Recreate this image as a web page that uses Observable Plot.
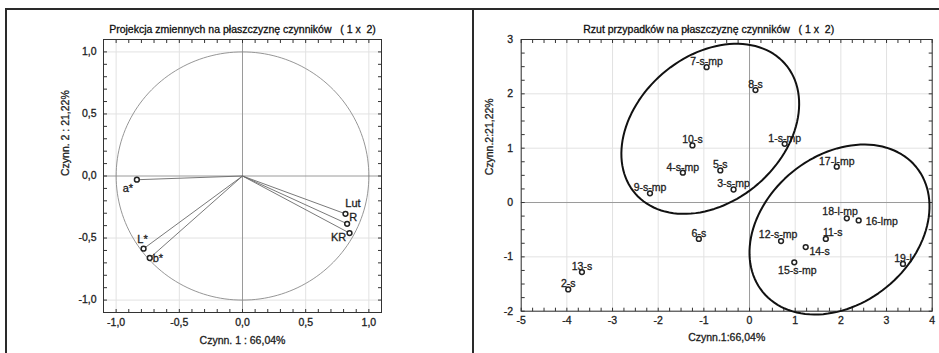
<!DOCTYPE html>
<html><head><meta charset="utf-8">
<script src="https://cdn.jsdelivr.net/npm/d3@7"></script>
<script src="https://cdn.jsdelivr.net/npm/@observablehq/plot@0.6"></script>
<style>
body{margin:0;background:#fff;}
#wrap{position:relative;width:939px;height:353px;overflow:hidden;background:#fff;font-family:"Liberation Sans",Arial,sans-serif;}
#left{position:absolute;left:0;top:0;}
#right{position:absolute;left:473px;top:0;}
.line{position:absolute;background:#2a2a2a;}
#wrap svg text{stroke:#222;stroke-width:0.3px;}
</style></head>
<body>
<div id="wrap">
  <div id="left"></div>
  <div id="right"></div>
  <div class="line" style="left:5px;top:8px;width:934px;height:1.5px"></div>
  <div class="line" style="left:5px;top:8px;width:2px;height:345px"></div>
  <div class="line" style="left:472px;top:8px;width:2px;height:345px"></div>
</div>
<script>
// ---- Left panel: variables ----
const leftTitle = "Projekcja zmiennych na płaszczyznę czynników   ( 1 x  2)";
const leftXLabel = "Czynn. 1 : 66,04%";
const leftYLabel = "Czynn. 2 : 21,22%";
const leftTicks = [-1.0, -0.5, 0.0, 0.5, 1.0];
const varNames = ["a*", "L*", "b*", "Lut", "R", "KR"];
const varF1 = [-0.836, -0.783, -0.734, 0.815, 0.828, 0.847];
const varF2 = [-0.030, -0.586, -0.661, -0.305, -0.385, -0.460];
const varLabelPos = ["belowLeft", "above", "right", "aboveRight", "upRight", "left"];

// ---- Right panel: cases ----
const rightTitle = "Rzut przypadków na płaszczyznę czynników   ( 1 x  2)";
const rightXLabel = "Czynn.1:66,04%";
const rightYLabel = "Czynn.2:21,22%";
const rightXTicks = [-5, -4, -3, -2, -1, 0, 1, 2, 3, 4];
const rightYTicks = [-2, -1, 0, 1, 2, 3];
const caseNames = ["1-s-mp","2-s","3-s-mp","4-s-mp","5-s","6-s","7-s-mp","8-s","9-s-mp","10-s","11-s","12-s-mp","13-s","14-s","15-s-mp","16-lmp","17-l-mp","18-l-mp","19-l"];
const caseF1 = [0.77,-3.97,-0.35,-1.46,-0.64,-1.11,-0.94,0.13,-2.18,-1.25,1.67,0.69,-3.67,1.23,0.98,2.39,1.91,2.13,3.36];
const caseF2 = [1.08,-1.60,0.24,0.55,0.59,-0.67,2.49,2.07,0.17,1.05,-0.67,-0.71,-1.28,-0.82,-1.10,-0.33,0.66,-0.29,-1.13];
const caseLabelPos = ["top","top","top","top","top","top","top","top","top","top","topRight","topLeftNear","top","belowRight","below","right","top","topLeft","top"];

// Group ellipses: centre and conjugate semi-axis vectors (data units)
const ellipseCX = [-0.86, 1.97];
const ellipseCY = [1.356, -0.497];
const ellipseUX = [1.641, 1.679];
const ellipseUY = [1.193, 1.151];
const ellipseVX = [-1.047, -1.032];
const ellipseVY = [1.013, 1.059];

// ---- build tables ----
const vars = varNames.map((n, i) => ({name: n, x: varF1[i], y: varF2[i], pos: varLabelPos[i]}));
const cases = caseNames.map((n, i) => ({name: n, x: caseF1[i], y: caseF2[i], pos: caseLabelPos[i]}));
const circle = d3.range(0, 361, 2).map(a => ({x: Math.cos(a * Math.PI / 180), y: Math.sin(a * Math.PI / 180)}));
const ellipses = [];
ellipseCX.forEach((cx, k) => {
  d3.range(0, 361, 3).forEach(a => {
    const t = a * Math.PI / 180;
    ellipses.push({g: k,
      x: cx + ellipseUX[k] * Math.cos(t) + ellipseVX[k] * Math.sin(t),
      y: ellipseCY[k] + ellipseUY[k] * Math.cos(t) + ellipseVY[k] * Math.sin(t)});
  });
});

const leftOff = {belowLeft: [-9, 9, "middle"], above: [-1, -9, "middle"], right: [3, 0, "start"],
  aboveRight: [7.5, -10, "middle"], upRight: [2, -6, "start"], left: [-11, 4, "middle"]};
const rightOff = {top: [0, -5.5, "middle"], right: [7, 1, "start"], belowRight: [3.7, 5, "start"],
  below: [3, 8.3, "middle"], topLeft: [-6.7, -6.3, "middle"], topRight: [7, -6.7, "middle"], topLeftNear: [-3, -6.3, "middle"]};

const textColor = "#1a1a1a";
function labelMarks(data, off, size) {
  return Object.keys(off).map(p => Plot.text(data.filter(d => d.pos === p), {
    x: "x", y: "y", text: "name", dx: off[p][0], dy: off[p][1], textAnchor: off[p][2],
    fontSize: size, fill: textColor
  }));
}

// inward minor ticks on all four sides of the frame (length L pixels, converted to data units)
function frameTicks(xs, ys, xd, yd, innerW, innerH) {
  const L = 3.5, s = {stroke: "#333", strokeWidth: 1};
  const lx = L * (xd[1] - xd[0]) / innerW, ly = L * (yd[1] - yd[0]) / innerH;
  const bx = xs.map(v => ({v, a: yd[0], b: yd[0] + ly})).concat(xs.map(v => ({v, a: yd[1] - ly, b: yd[1]})));
  const by = ys.map(v => ({v, a: xd[0], b: xd[0] + lx})).concat(ys.map(v => ({v, a: xd[1] - lx, b: xd[1]})));
  return [
    Plot.link(bx, {x1: "v", x2: "v", y1: "a", y2: "b", ...s}),
    Plot.link(by, {y1: "v", y2: "v", x1: "a", x2: "b", ...s})
  ];
}

const comma1 = d => d.toFixed(1).replace(".", ",");
const frameColor = "#333";

const LW = 470, LH = 353, LML = 103, LMR = 89, LMT = 39, LMB = 41;
const LXD = [-1.1, 1.1], LYD = [-1.1, 1.1];
const leftMinor = d3.range(-11, 12).map(d => d / 10);
const left = Plot.plot({
  width: LW, height: LH,
  marginLeft: LML, marginRight: LMR, marginTop: LMT, marginBottom: LMB,
  x: {domain: LXD},
  y: {domain: LYD},
  style: {fontFamily: "Liberation Sans, Arial, sans-serif", fontSize: "10px", color: textColor, background: "#fff"},
  marks: [
    Plot.ruleX(leftTicks.filter(d => d !== 0), {stroke: "#e2e2e2"}),
    Plot.ruleY(leftTicks.filter(d => d !== 0), {stroke: "#e2e2e2"}),
    Plot.ruleX([0], {stroke: "#9a9a9a"}),
    Plot.ruleY([0], {stroke: "#9a9a9a"}),
    Plot.line(circle, {x: "x", y: "y", stroke: "#8a8a8a", strokeWidth: 0.9}),
    Plot.link(vars, {x1: () => 0, y1: () => 0, x2: "x", y2: "y", stroke: "#6a6a6a", strokeWidth: 0.9}),
    Plot.frame({stroke: frameColor}),
    ...frameTicks(leftMinor, leftMinor, LXD, LYD, LW - LML - LMR, LH - LMT - LMB),
    Plot.axisX({anchor: "bottom", ticks: leftTicks, tickSize: 0, tickPadding: 6, tickFormat: comma1, label: null, fontSize: 10.5}),
    Plot.axisY({anchor: "left", ticks: leftTicks, tickSize: 0, tickPadding: 7, tickFormat: comma1, label: null, fontSize: 10.5}),
    Plot.dot(vars, {x: "x", y: "y", r: 2.4, stroke: "#222", strokeWidth: 1.5, fill: "#fff"}),
    ...labelMarks(vars, leftOff, 11),
    Plot.text([leftTitle], {text: d => d, frameAnchor: "top", dy: -14, fontSize: 10.5, fill: "#000"}),
    Plot.text([leftXLabel], {text: d => d, frameAnchor: "bottom", dy: 31, fontSize: 10.5, fill: textColor}),
    Plot.text([leftYLabel], {text: d => d, frameAnchor: "left", dx: -38, rotate: -90, fontSize: 10.5, fill: textColor})
  ]
});
document.getElementById("left").appendChild(left);

const RW = 466, RH = 353, RML = 47.7, RMR = 7.3, RMT = 39, RMB = 42.3;
const RXD = [-5, 4], RYD = [-2, 3];
const right = Plot.plot({
  width: RW, height: RH,
  marginLeft: RML, marginRight: RMR, marginTop: RMT, marginBottom: RMB,
  x: {domain: RXD},
  y: {domain: RYD},
  style: {fontFamily: "Liberation Sans, Arial, sans-serif", fontSize: "10px", color: textColor, background: "transparent", overflow: "visible"},
  marks: [
    Plot.ruleX(rightXTicks.filter(d => d !== 0), {stroke: "#e2e2e2"}),
    Plot.ruleY(rightYTicks.filter(d => d !== 0), {stroke: "#e2e2e2"}),
    Plot.ruleX([0], {stroke: "#9a9a9a"}),
    Plot.ruleY([0], {stroke: "#9a9a9a"}),
    Plot.frame({stroke: frameColor}),
    ...frameTicks(d3.range(-20, 17).map(d => d / 4), d3.range(-8, 13).map(d => d / 4), RXD, RYD, RW - RML - RMR, RH - RMT - RMB),
    Plot.axisX({anchor: "bottom", ticks: rightXTicks, tickSize: 0, tickPadding: 5.5, tickFormat: d => String(d), label: null, fontSize: 10.5}),
    Plot.axisY({anchor: "left", ticks: rightYTicks, tickSize: 0, tickPadding: 8, tickFormat: d => String(d), label: null, fontSize: 10.5}),
    ...labelMarks(cases, rightOff, 10.5),
    Plot.dot(cases, {x: "x", y: "y", r: 2.4, stroke: "#222", strokeWidth: 1.5, fill: "#fff"}),
    Plot.line(ellipses, {x: "x", y: "y", z: "g", stroke: "#111", strokeWidth: 2, curve: "linear-closed"}),
    Plot.text([rightTitle], {text: d => d, frameAnchor: "top", dx: -18, dy: -14, fontSize: 10.5, fill: "#000"}),
    Plot.text([rightXLabel], {text: d => d, frameAnchor: "bottom", dy: 30, fontSize: 10.5, fill: textColor}),
    Plot.text([rightYLabel], {text: d => d, frameAnchor: "left", dx: -32, rotate: -90, fontSize: 10.5, fill: textColor})
  ]
});
document.getElementById("right").appendChild(right);
</script>
</body></html>
